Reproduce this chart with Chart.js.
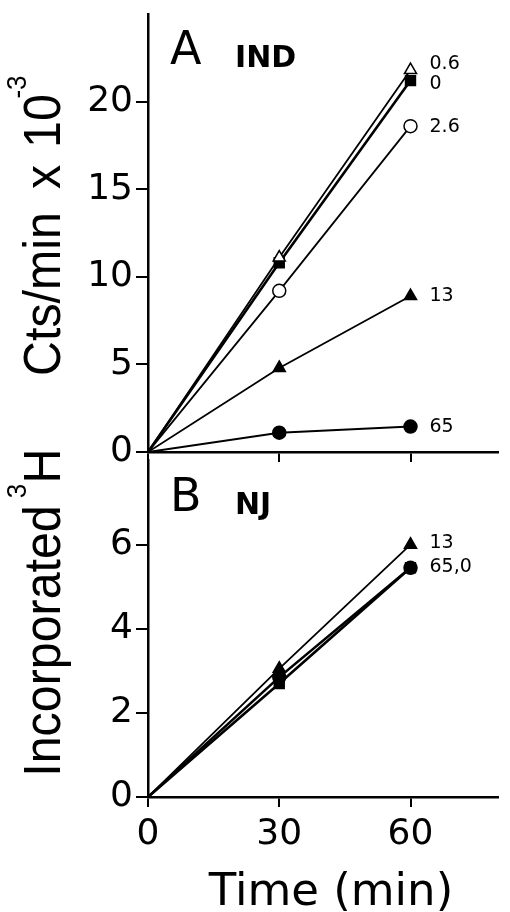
<!DOCTYPE html>
<html>
<head>
<meta charset="utf-8">
<script src="https://cdn.jsdelivr.net/npm/chart.js@4"></script>
<style>
	html, body { margin: 0; padding: 0; background: #fff; }
	#wrap { position: relative; width: 510px; height: 912px; overflow: hidden; }
	canvas { position: absolute; left: 0; }
	#chartA { top: 0; }
	#chartB { top: 452px; }
	/* y title pieces, each rotated about its own centre and slightly condensed */
	.yt {
		position: absolute;
		transform: translate(-50%, -50%) rotate(-90deg) scaleX(0.93);
		font-family: 'Liberation Sans', sans-serif;
		font-size: 52px; line-height: 1;
		white-space: nowrap; color: #000;
	}
	.yt.sup { font-size: 28px; }
	#xTitle {
		position: absolute; left: 331px; top: 867px;
		transform: translateX(-50%);
		font-family: 'DejaVu Sans', sans-serif;
		font-size: 45px; line-height: 45px; white-space: nowrap; color: #000;
	}
</style>
</head>
<body>
<div id="wrap">
	<canvas id="chartA" width="510" height="470"></canvas>
	<canvas id="chartB" width="510" height="460"></canvas>
	<div class="yt" style="left:42px;top:641px">Incorporated</div>
	<div class="yt sup" style="left:17px;top:491px">3</div>
	<div class="yt" style="left:42px;top:466px">H</div>
	<div class="yt" style="left:42px;top:294px">Cts/min</div>
	<div class="yt" style="left:42px;top:177px">x</div>
	<div class="yt" style="left:42px;top:121px">10</div>
	<div class="yt sup" style="left:17px;top:87px">-3</div>
	<div id="xTitle">Time (min)</div>
</div>
<script>
// Sampling times (min)
const times = [0, 30, 60];

// Panel A: IND, one series per concentration
const indNames = ['0.6', '0', '2.6', '13', '65'];
const ind06 = [0, 11.1, 21.8];
const ind0 = [0, 10.8, 21.2];
const ind26 = [0, 9.2, 18.6];
const ind13 = [0, 4.8, 8.9];
const ind65 = [0, 1.1, 1.45];

// Panel B: NJ
const njNames = ['13', '65', '0'];
const nj13 = [0, 3.05, 6.0];
const nj65 = [0, 2.85, 5.45];
const nj0 = [0, 2.7, 5.45];

// End-of-line labels (panel B joins 65 and 0)
const indEndLabels = ['0.6', '0', '2.6', '13', '65'];
const njEndLabels = ['13', '65,0', ''];

// Tick values
const xTicks = [0, 30, 60];
const yTicksA = [0, 5, 10, 15, 20];
const yTicksB = [0, 2, 4, 6];

const FONT = "'DejaVu Sans', sans-serif";

Chart.defaults.font.family = FONT;
Chart.defaults.color = '#000';

// Marker look per series
function series(label, values, style, filled, radius, width) {
	return {
		label: label,
		data: times.map((t, i) => ({ x: t, y: values[i] })),
		borderColor: '#000',
		borderWidth: width || 1.8,
		pointStyle: style,
		pointBackgroundColor: filled ? '#000' : '#fff',
		pointBorderColor: '#000',
		pointBorderWidth: 1.5,
		pointRadius: ctx => ctx.dataIndex === 0 ? 0 : radius,
		tension: 0,
		fill: false,
	};
}

// Draws the panel letter and the labels at the end of each line
const panelText = {
	id: 'panelText',
	afterDatasetsDraw(chart, args, opts) {
		const ctx = chart.ctx;
		const area = chart.chartArea;
		ctx.save();
		ctx.fillStyle = '#000';
		ctx.textBaseline = 'middle';
		ctx.textAlign = 'left';

		ctx.font = '46px ' + FONT;
		ctx.fillText(opts.letter, area.left + 22, area.top + opts.letterY);
		ctx.font = 'bold 30px ' + FONT;
		ctx.fillText(opts.name, area.left + 87, area.top + opts.nameY);

		ctx.font = '19px ' + FONT;
		chart.data.datasets.forEach((ds, i) => {
			const text = opts.labels[i];
			if (!text) return;
			const pts = chart.getDatasetMeta(i).data;
			const p = pts[pts.length - 1];
			ctx.fillText(text, p.x + 19, p.y + (opts.dy[i] || 0));
		});
		ctx.restore();
	}
};

function axisFit(width, height) {
	return scale => {
		if (width) scale.width = width;
		if (height) scale.height = height;
		scale.paddingTop = 0;
		scale.paddingBottom = 0;
		scale.paddingLeft = 0;
		scale.paddingRight = 0;
	};
}

function makeChart(id, datasets, yMax, yTicks, showX, xHeight, textOpts, padTop) {
	return new Chart(document.getElementById(id), {
		type: 'line',
		data: { datasets: datasets },
		plugins: [panelText],
		options: {
			responsive: false,
			animation: false,
			devicePixelRatio: 1,
			layout: { padding: { left: 0, right: 12, top: padTop, bottom: 0 } },
			plugins: {
				legend: { display: false },
				tooltip: { enabled: false },
				panelText: textOpts,
			},
			scales: {
				x: {
					type: 'linear',
					min: 0,
					max: 80,
					afterBuildTicks: s => { s.ticks = xTicks.map(v => ({ value: v })); },
					afterFit: axisFit(0, xHeight),
					border: { display: true, color: '#000', width: 2.5 },
					grid: { drawOnChartArea: false, color: '#000', lineWidth: 2, tickLength: 10 },
					ticks: { display: showX, font: { size: 36 }, padding: 6, maxRotation: 0 },
				},
				y: {
					min: 0,
					max: yMax,
					afterBuildTicks: s => { s.ticks = yTicks.map(v => ({ value: v })); },
					afterFit: axisFit(148, 0),
					border: { display: true, color: '#000', width: 2.5 },
					grid: { drawOnChartArea: false, color: '#000', lineWidth: 2, tickLength: 12 },
					ticks: { font: { size: 36 }, padding: 3 },
				},
			},
		},
	});
}

makeChart('chartA', [
	series(indNames[0], ind06, 'triangle', false, 7),
	series(indNames[1], ind0, 'rect', true, 7, 2.6),
	series(indNames[2], ind26, 'circle', false, 6.5),
	series(indNames[3], ind13, 'triangle', true, 7),
	series(indNames[4], ind65, 'circle', true, 6.5, 2),
], 25, yTicksA, false, 18, {
	letter: 'A', letterY: 38, name: 'IND', nameY: 45,
	labels: indEndLabels, dy: [-6, 3, 1, 0, 0],
}, 14);

makeChart('chartB', [
	series(njNames[0], nj13, 'triangle', true, 7),
	series(njNames[1], nj65, 'circle', true, 6.5, 2.6),
	series(njNames[2], nj0, 'rect', true, 7, 2.6),
], 8, yTicksB, true, 115, {
	letter: 'B', letterY: 39, name: 'NJ', nameY: 46,
	labels: njEndLabels, dy: [-2, -1, 0],
}, 0);
</script>
</body>
</html>
